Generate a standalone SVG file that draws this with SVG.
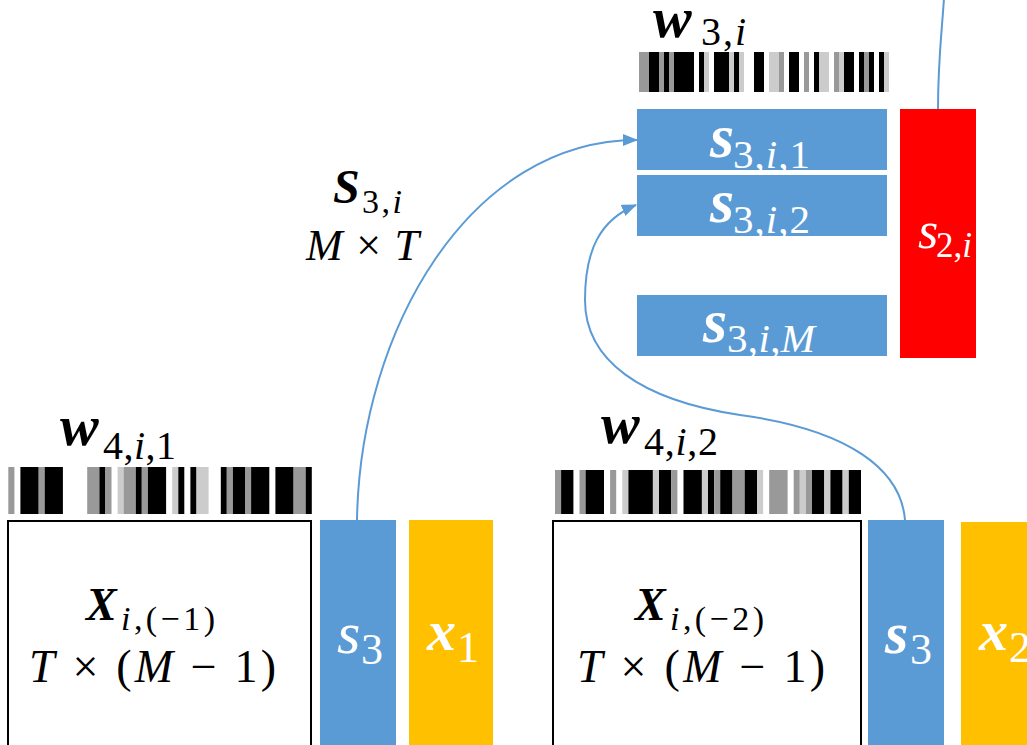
<svg xmlns="http://www.w3.org/2000/svg" width="1027" height="745" viewBox="0 0 1027 745">
<style>
text{font-family:"Liberation Serif","DejaVu Serif",serif;}
.k{fill:#000;}
.wt{fill:#fff;}
.bi{font-weight:bold;font-style:italic;}
.it{font-style:italic;}
.blue{fill:#5B9BD5;}
.org{fill:#FFC000;}
.red{fill:#FF0000;}
.box{fill:#fff;stroke:#000;stroke-width:2;}
.b{fill:#000;}
.g{fill:#999;}
.l{fill:#ccc;}
.conn{fill:none;stroke:#5B9BD5;stroke-width:2;}
</style>
<defs>
<marker id="arr" markerUnits="userSpaceOnUse" markerWidth="16" markerHeight="12" refX="14" refY="6" orient="auto">
<path d="M0,0 L15,6 L0,12 Z" fill="#5B9BD5"/>
</marker>
</defs>
<rect width="1027" height="745" fill="#fff"/>

<g id="w3i-label">
<text class="k bi" x="653" y="37" font-size="58">w</text>
<text class="k" x="701" y="45" font-size="40" textLength="45">3,<tspan class="it">i</tspan></text>
</g>
<g id="w3i-barcode">
<rect class="g" x="639" y="52" width="10" height="40"/>
<rect class="b" x="649" y="52" width="10" height="40"/>
<rect class="g" x="659" y="52" width="5" height="40"/>
<rect class="b" x="664" y="52" width="5" height="40"/>
<rect class="g" x="669" y="52" width="5" height="40"/>
<rect class="b" x="674" y="52" width="20" height="40"/>
<rect class="b" x="699" y="52" width="5" height="40"/>
<rect class="l" x="704" y="52" width="5" height="40"/>
<rect class="b" x="714" y="52" width="15" height="40"/>
<rect class="l" x="729" y="52" width="5" height="40"/>
<rect class="b" x="734" y="52" width="5" height="40"/>
<rect class="l" x="739" y="52" width="5" height="40"/>
<rect class="b" x="754" y="52" width="10" height="40"/>
<rect class="l" x="769" y="52" width="10" height="40"/>
<rect class="g" x="779" y="52" width="5" height="40"/>
<rect class="b" x="789" y="52" width="10" height="40"/>
<rect class="g" x="804" y="52" width="5" height="40"/>
<rect class="b" x="814" y="52" width="5" height="40"/>
<rect class="l" x="819" y="52" width="10" height="40"/>
<rect class="g" x="834" y="52" width="5" height="40"/>
<rect class="l" x="839" y="52" width="5" height="40"/>
<rect class="b" x="844" y="52" width="10" height="40"/>
<rect class="b" x="859" y="52" width="5" height="40"/>
<rect class="g" x="864" y="52" width="5" height="40"/>
<rect class="b" x="869" y="52" width="5" height="40"/>
<rect class="b" x="879" y="52" width="5" height="40"/>
<rect class="l" x="884" y="52" width="5" height="40"/>
</g>

<g id="s3i1">
<rect class="blue" x="637" y="109" width="250" height="61"/>
<text class="wt bi" x="710" y="157" font-size="62">s</text>
<text class="wt" x="733" y="168" font-size="41" textLength="77">3,<tspan class="it">i</tspan>,1</text>
</g>
<g id="s3i2">
<rect class="blue" x="637" y="175" width="250" height="61"/>
<text class="wt bi" x="710" y="222" font-size="62">s</text>
<text class="wt" x="733" y="233" font-size="41" textLength="77">3,<tspan class="it">i</tspan>,2</text>
</g>
<g id="s3iM">
<rect class="blue" x="637" y="295" width="250" height="61"/>
<text class="wt bi" x="703" y="342" font-size="62">s</text>
<text class="wt" x="727" y="352" font-size="41" textLength="88">3,<tspan class="it">i</tspan>,<tspan class="it">M</tspan></text>
</g>
<g id="s2i">
<rect class="red" x="900" y="109" width="76" height="249"/>
<text class="wt it" x="918" y="248" font-size="52">s</text>
<text class="wt" x="936" y="257" font-size="35" textLength="36">2,<tspan class="it">i</tspan></text>
</g>

<g id="S3i-label">
<text class="k bi" x="333" y="203" font-size="48">S</text>
<text class="k" x="362" y="213" font-size="34" textLength="40">3,<tspan class="it">i</tspan></text>
<text class="k" x="306" y="260" font-size="44" textLength="113"><tspan class="it">M</tspan> × <tspan class="it">T</tspan></text>
</g>

<g id="w41-label">
<text class="k bi" x="60" y="445" font-size="58">w</text>
<text class="k" x="103" y="459" font-size="40" textLength="73">4,<tspan class="it">i</tspan>,1</text>
</g>
<g id="w41-barcode">
<rect class="g" x="8.3" y="467" width="6.1" height="47"/>
<rect class="b" x="20.4" y="467" width="18.3" height="47"/>
<rect class="g" x="38.7" y="467" width="6" height="47"/>
<rect class="b" x="44.7" y="467" width="18.2" height="47"/>
<rect class="g" x="87.2" y="467" width="12.2" height="47"/>
<rect class="b" x="99.4" y="467" width="6" height="47"/>
<rect class="g" x="105.4" y="467" width="6.1" height="47"/>
<rect class="l" x="117.6" y="467" width="6" height="47"/>
<rect class="g" x="123.6" y="467" width="12.2" height="47"/>
<rect class="b" x="135.8" y="467" width="6" height="47"/>
<rect class="g" x="141.8" y="467" width="6.1" height="47"/>
<rect class="b" x="147.9" y="467" width="18.2" height="47"/>
<rect class="l" x="172.2" y="467" width="6.1" height="47"/>
<rect class="b" x="178.3" y="467" width="6" height="47"/>
<rect class="b" x="190.4" y="467" width="6.1" height="47"/>
<rect class="l" x="196.5" y="467" width="12.1" height="47"/>
<rect class="b" x="220.8" y="467" width="6" height="47"/>
<rect class="g" x="226.8" y="467" width="6.1" height="47"/>
<rect class="b" x="232.9" y="467" width="12.1" height="47"/>
<rect class="g" x="245" y="467" width="6.1" height="47"/>
<rect class="b" x="251.1" y="467" width="18.2" height="47"/>
<rect class="b" x="275.4" y="467" width="18.2" height="47"/>
<rect class="g" x="293.6" y="467" width="12.1" height="47"/>
<rect class="b" x="305.7" y="467" width="6.1" height="47"/>
</g>
<g id="X1">
<rect class="box" x="8" y="521" width="303" height="240"/>
<text class="k bi" x="86" y="620" font-size="46">X</text>
<text class="k" x="121" y="630" font-size="34" textLength="94"><tspan class="it">i</tspan>,(−1)</text>
<text class="k" x="29" y="682" font-size="46" textLength="247"><tspan class="it">T</tspan> × (<tspan class="it">M</tspan> − 1)</text>
</g>
<g id="s3-1">
<rect class="blue" x="320" y="520" width="76" height="230"/>
<text class="wt it" x="337" y="653" font-size="60">s</text>
<text class="wt" x="361" y="664" font-size="44">3</text>
</g>
<g id="x1">
<rect class="org" x="409" y="520" width="84" height="230"/>
<text class="wt bi" x="427" y="650" font-size="58">x</text>
<text class="wt" x="457" y="662" font-size="44">1</text>
</g>

<g id="w42-label">
<text class="k bi" x="601" y="443" font-size="58">w</text>
<text class="k" x="644" y="455" font-size="40" textLength="74">4,<tspan class="it">i</tspan>,2</text>
</g>
<g id="w42-barcode">
<rect class="g" x="555" y="470" width="6.1" height="44"/>
<rect class="b" x="561.1" y="470" width="12.3" height="44"/>
<rect class="g" x="579.5" y="470" width="6.1" height="44"/>
<rect class="b" x="585.6" y="470" width="18.4" height="44"/>
<rect class="g" x="610.1" y="470" width="6.1" height="44"/>
<rect class="l" x="622.3" y="470" width="6.1" height="44"/>
<rect class="b" x="628.4" y="470" width="24.5" height="44"/>
<rect class="l" x="652.9" y="470" width="6.1" height="44"/>
<rect class="b" x="659" y="470" width="12.3" height="44"/>
<rect class="g" x="671.3" y="470" width="6.1" height="44"/>
<rect class="b" x="683.5" y="470" width="18.4" height="44"/>
<rect class="l" x="701.9" y="470" width="6.1" height="44"/>
<rect class="b" x="708" y="470" width="6.1" height="44"/>
<rect class="g" x="714.1" y="470" width="6.1" height="44"/>
<rect class="b" x="720.2" y="470" width="12.3" height="44"/>
<rect class="g" x="732.5" y="470" width="12.2" height="44"/>
<rect class="b" x="744.7" y="470" width="12.3" height="44"/>
<rect class="l" x="757" y="470" width="6.1" height="44"/>
<rect class="g" x="769.2" y="470" width="18.4" height="44"/>
<rect class="g" x="793.7" y="470" width="6.1" height="44"/>
<rect class="l" x="799.8" y="470" width="6.1" height="44"/>
<rect class="g" x="805.9" y="470" width="6.1" height="44"/>
<rect class="b" x="812" y="470" width="12.3" height="44"/>
<rect class="l" x="824.3" y="470" width="6.1" height="44"/>
<rect class="b" x="830.4" y="470" width="12.2" height="44"/>
<rect class="l" x="842.6" y="470" width="6.2" height="44"/>
<rect class="b" x="848.8" y="470" width="12.2" height="44"/>
</g>
<g id="X2">
<rect class="box" x="553" y="521" width="308" height="240"/>
<text class="k bi" x="635" y="620" font-size="46">X</text>
<text class="k" x="670" y="630" font-size="34" textLength="94"><tspan class="it">i</tspan>,(−2)</text>
<text class="k" x="577" y="682" font-size="46" textLength="248"><tspan class="it">T</tspan> × (<tspan class="it">M</tspan> − 1)</text>
</g>
<g id="s3-2">
<rect class="blue" x="868" y="520" width="76" height="230"/>
<text class="wt bi" x="885" y="653" font-size="60">s</text>
<text class="wt" x="910" y="664" font-size="44">3</text>
</g>
<g id="x2">
<rect class="org" x="961" y="522" width="70" height="230"/>
<text class="wt bi" x="979" y="650" font-size="58">x</text>
<text class="wt" x="1009" y="662" font-size="44">2</text>
</g>

<g id="connectors">
<path class="conn" d="M357,520 C360,330 470,140 637,140" marker-end="url(#arr)"/>
<path class="conn" d="M905,520 C901,470 850,430 740,415 C640,400 585,360 585,300 C585,250 600,220 636,205" marker-end="url(#arr)"/>
<path class="conn" d="M938,109 C938,60 942,30 944,-2"/>
</g>
</svg>
